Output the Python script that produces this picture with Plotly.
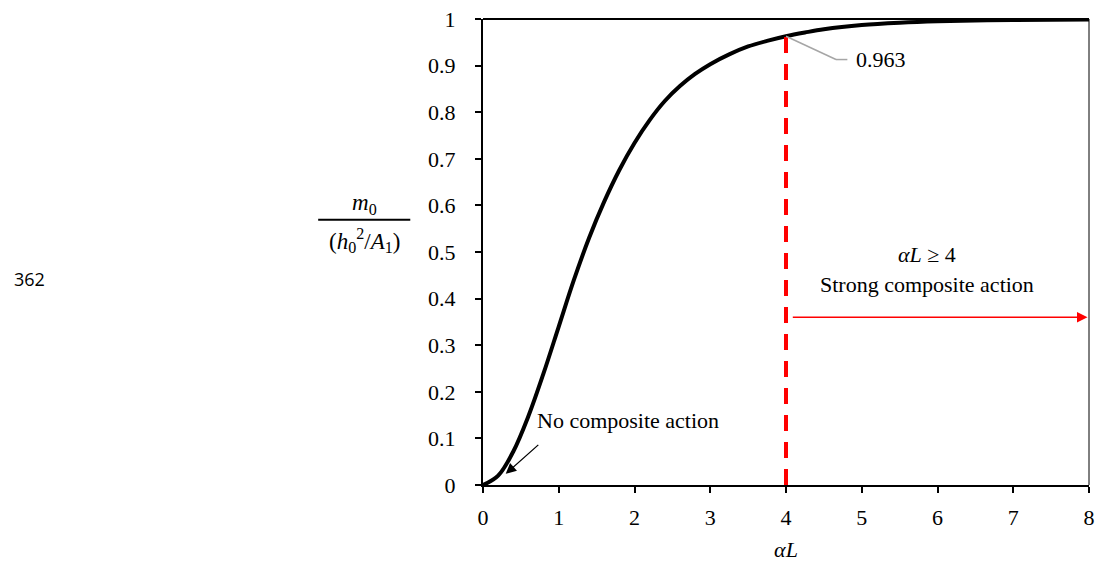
import plotly.graph_objects as go

# Normalised moment vs. alpha*L
alpha_L = [0, 0.2, 0.4, 0.6, 0.8, 1.0, 1.2, 1.4, 1.6, 1.8, 2.0, 2.2, 2.4, 2.6, 2.8,
           3.0, 3.25, 3.5, 3.75, 4.0, 4.25, 4.5, 5.0, 5.5, 6.0, 7.0, 8.0]
m_ratio = [0, 0.02, 0.072, 0.148, 0.24, 0.34, 0.44, 0.53, 0.608, 0.676, 0.734, 0.783,
           0.824, 0.856, 0.882, 0.903, 0.924, 0.941, 0.953, 0.963, 0.971, 0.978, 0.987,
           0.992, 0.995, 0.998, 0.999]

x_ticks = [0, 1, 2, 3, 4, 5, 6, 7, 8]
y_ticks = [0, 0.1, 0.2, 0.3, 0.4, 0.5, 0.6, 0.7, 0.8, 0.9, 1]
y_tick_text = ["0", "0.1", "0.2", "0.3", "0.4", "0.5", "0.6", "0.7", "0.8", "0.9", "1"]

threshold = 4
threshold_value = 0.963

SERIF = "Liberation Serif"
FS = 22

fig = go.Figure()
fig.add_trace(go.Scatter(
    x=alpha_L, y=m_ratio, mode="lines",
    line=dict(color="black", width=4, shape="spline", smoothing=1.0),
    hoverinfo="skip", showlegend=False,
))

fig.update_layout(
    width=1102, height=565,
    margin=dict(l=483, r=7, t=16, b=80),
    paper_bgcolor="white", plot_bgcolor="white",
    font=dict(family=SERIF, size=FS, color="black"),
    xaxis=dict(
        range=[0, 8], tickvals=x_ticks, showgrid=False, zeroline=False,
        showline=True, linecolor="black", linewidth=2,
        ticks="outside", ticklen=6, tickwidth=1.5, tickcolor="black",
        ticklabelstandoff=6,
        title=dict(text="<i>αL</i>", font=dict(family=SERIF, size=FS), standoff=12),
    ),
    yaxis=dict(
        range=[0, 1], tickvals=y_ticks, ticktext=y_tick_text, showgrid=False,
        zeroline=False, showline=True, linecolor="black", linewidth=2,
        ticks="outside", ticklen=6, tickwidth=1.5, tickcolor="black",
        ticklabelstandoff=15,
    ),
)

shapes = [
    # top and right frame
    dict(type="line", xref="paper", yref="paper", x0=0, x1=1, y0=1, y1=1,
         line=dict(color="black", width=2)),
    dict(type="line", xref="paper", yref="paper", x0=1, x1=1, y0=0, y1=1,
         line=dict(color="black", width=1)),
    # threshold marker
    dict(type="line", xref="x", yref="y", x0=threshold, x1=threshold, y0=0, y1=0.985,
         line=dict(color="red", width=4, dash="16px,11px")),
    # leader to the value label
    dict(type="line", xref="x", yref="y", x0=threshold, y0=threshold_value,
         x1=4.66, y1=0.913, line=dict(color="#a6a6a6", width=1.5)),
    dict(type="line", xref="x", yref="y", x0=4.66, y0=0.913,
         x1=4.81, y1=0.913, line=dict(color="#a6a6a6", width=1.5)),
    # fraction bar of the y label
    dict(type="line", xref="paper", yref="paper",
         x0=-0.272, x1=-0.12, y0=0.569, y1=0.569,
         line=dict(color="black", width=2)),
]
fig.update_layout(shapes=shapes)

annotations = [
    dict(x=4.9, y=0.913, xref="x", yref="y", text=f"{threshold_value:.3f}",
         showarrow=False, xanchor="left", yanchor="middle", font=dict(size=FS)),
    dict(x=7.98, y=0.36, xref="x", yref="y", ax=4.07, ay=0.36, axref="x", ayref="y",
         text="", showarrow=True, arrowhead=2, arrowsize=1.4, arrowwidth=1.5,
         arrowcolor="red"),
    dict(x=5.86, y=0.494, xref="x", yref="y", text="<i>αL</i> ≥ 4",
         showarrow=False, xanchor="center", yanchor="middle", font=dict(size=FS)),
    dict(x=5.86, y=0.43, xref="x", yref="y", text="Strong composite action",
         showarrow=False, xanchor="center", yanchor="middle", font=dict(size=FS)),
    dict(x=0.68, y=0.138, xref="x", yref="y", text="No composite action",
         showarrow=False, xanchor="left", yanchor="middle", font=dict(size=FS)),
    dict(x=0.30, y=0.024, xref="x", yref="y", ax=0.75, ay=0.089, axref="x", ayref="y",
         text="", showarrow=True, arrowhead=2, arrowsize=1.6, arrowwidth=1.3,
         arrowcolor="black"),
    dict(x=-0.196, y=0.604, xref="paper", yref="paper",
         text="<i>m</i><sub>0</sub>", showarrow=False,
         xanchor="center", yanchor="middle", font=dict(size=FS + 1)),
    dict(x=-0.196, y=0.524, xref="paper", yref="paper",
         text="(<i>h</i><sub>0</sub><sup>2</sup>/<i>A</i><sub>1</sub>)", showarrow=False,
         xanchor="center", yanchor="middle", font=dict(size=FS + 1)),
    dict(x=-0.778, y=0.443, xref="paper", yref="paper", text="362",
         showarrow=False, xanchor="left", yanchor="middle",
         font=dict(family="Open Sans", size=18)),
]
fig.update_layout(annotations=annotations)

fig.write_html("out.html")
